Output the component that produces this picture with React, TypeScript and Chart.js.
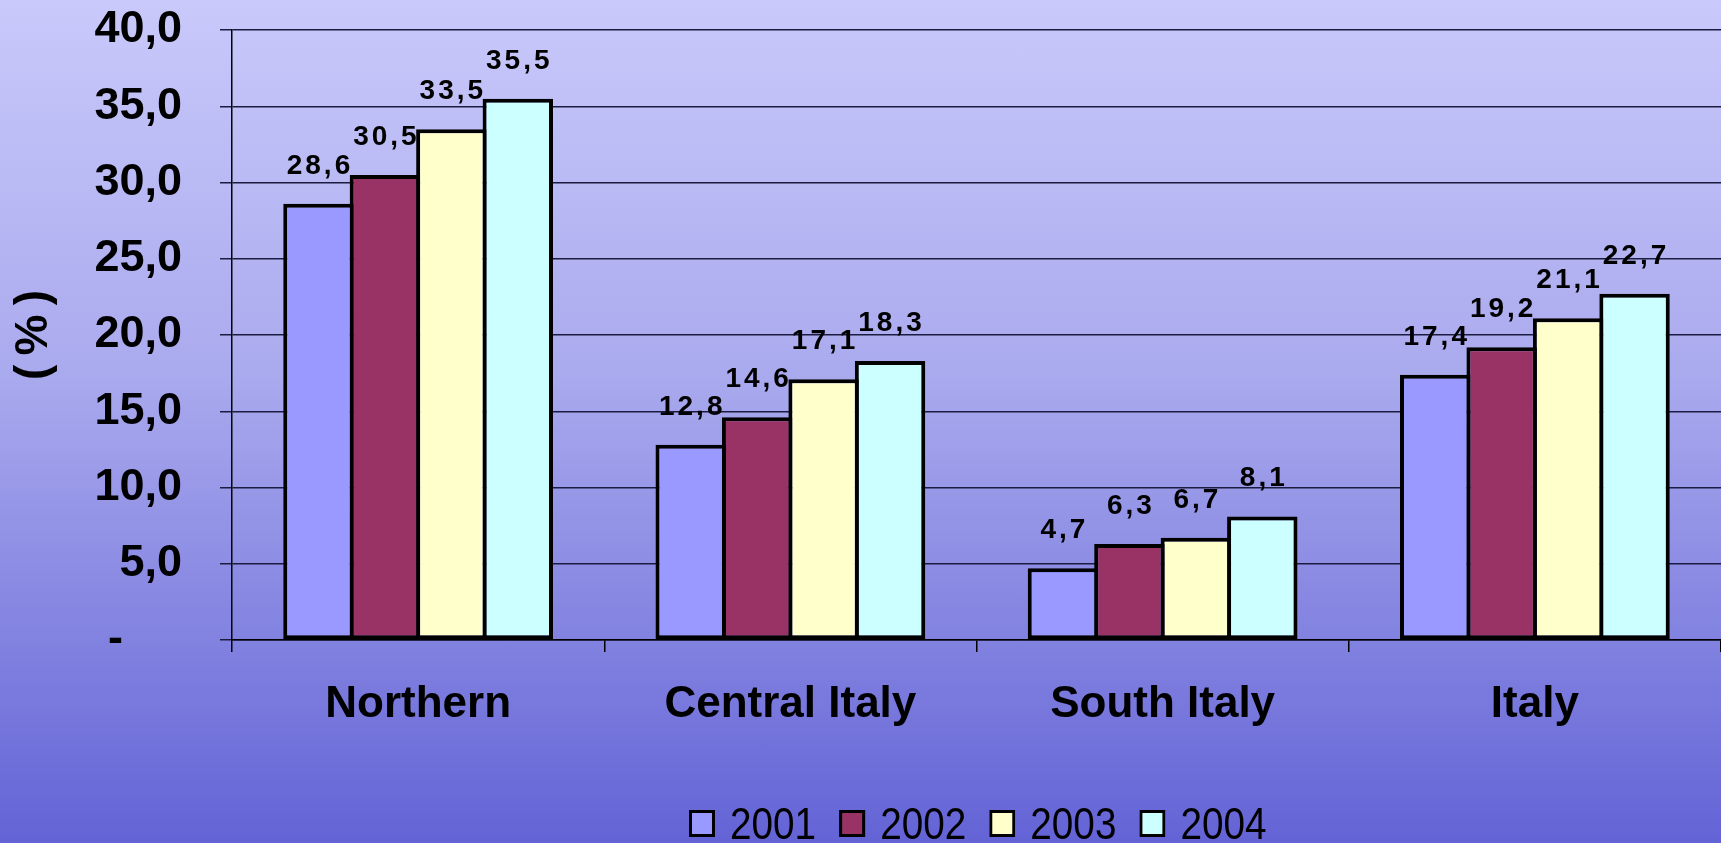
import React, { useEffect, useRef } from 'react';
import { Chart, registerables } from 'chart.js';

Chart.register(...registerables);

const categories = ['Northern', 'Central Italy', 'South Italy', 'Italy'];
const seriesNames = ['2001', '2002', '2003', '2004'];
const values2001 = [28.6, 12.8, 4.7, 17.4];
const values2002 = [30.5, 14.6, 6.3, 19.2];
const values2003 = [33.5, 17.1, 6.7, 21.1];
const values2004 = [35.5, 18.3, 8.1, 22.7];
const seriesValues = [values2001, values2002, values2003, values2004];
const seriesColors = ['#9999ff', '#993366', '#ffffcc', '#ccffff'];
const yMin = 0;
const yMax = 40;
const yStep = 5;
const yTitle = '(\u2009%\u2009)';
const zeroLabel = '-\u2007\u2007\u2009';

const FONT = '"Liberation Sans", Arial, Helvetica, sans-serif';

const W = 1721;
const H = 843;

const fmt = (v: number) => v.toFixed(1).replace('.', ',');

const dataLabelPlugin = {
  id: 'dataLabelPlugin',
  afterDatasetsDraw(chart: any) {
    const ctx = chart.ctx;
    ctx.save();
    ctx.font = `bold 28px ${FONT}`;
    ctx.fillStyle = '#000';
    ctx.textAlign = 'center';
    ctx.textBaseline = 'alphabetic';
    ctx.letterSpacing = '3px';
    chart.data.datasets.forEach((ds: any, di: number) => {
      const meta = chart.getDatasetMeta(di);
      meta.data.forEach((el: any, i: number) => {
        const v = ds.data[i] as number;
        ctx.fillText(fmt(v), el.x + 1.5, el.y - 30);
      });
    });
    ctx.restore();
  },
};

// Legend drawn in a slightly condensed face (the original uses a narrow font)
const legendPlugin = {
  id: 'condensedLegend',
  afterDraw(chart: any) {
    const ctx = chart.ctx;
    ctx.save();
    const squeeze = 0.88;
    const boxW = 26;
    const boxH = 27;
    const boxTop = 810;
    const baseline = 839;
    const gapText = 15;
    const gapItem = 23;
    ctx.font = `44px ${FONT}`;
    ctx.textBaseline = 'alphabetic';
    ctx.textAlign = 'left';
    let x = 689;
    chart.data.datasets.forEach((ds: any) => {
      ctx.fillStyle = ds.backgroundColor;
      ctx.fillRect(x, boxTop, boxW, boxH);
      ctx.lineWidth = 3;
      ctx.strokeStyle = '#000';
      ctx.strokeRect(x + 1.5, boxTop + 1.5, boxW - 3, boxH - 3);
      const tx = x + boxW + gapText;
      ctx.save();
      ctx.translate(tx, baseline);
      ctx.scale(squeeze, 1);
      ctx.fillStyle = '#000';
      ctx.fillText(ds.label, 0, 0);
      ctx.restore();
      const tw = ctx.measureText(ds.label).width * squeeze;
      x = tx + tw + gapItem;
    });
    ctx.restore();
  },
};

export default function App() {
  const canvasRef = useRef<HTMLCanvasElement | null>(null);

  useEffect(() => {
    document.body.style.margin = '0';
    const canvas = canvasRef.current;
    if (!canvas) return;
    const chart = new Chart(canvas, {
      type: 'bar',
      data: {
        labels: categories,
        datasets: seriesNames.map((name, i) => ({
          label: name,
          data: seriesValues[i],
          backgroundColor: seriesColors[i],
          borderColor: '#000',
          borderWidth: 4,
          borderSkipped: false,
          categoryPercentage: 0.714,
          barPercentage: 1.06,
        })),
      },
      options: {
        responsive: false,
        animation: false,
        events: [],
        layout: { padding: { top: 30, left: 0, right: 0, bottom: 0 } },
        plugins: {
          tooltip: { enabled: false },
          legend: { display: false },
        },
        scales: {
          x: {
            grid: {
              display: true,
              drawOnChartArea: false,
              drawTicks: true,
              tickLength: 12,
              color: '#000',
              lineWidth: 1.5,
              offset: true,
            },
            border: { display: true, color: '#000', width: 1.5 },
            ticks: {
              color: '#000',
              padding: 26,
              autoSkip: false,
              maxRotation: 0,
              font: { family: FONT, size: 44, weight: 'bold' },
            },
            afterFit: (scale: any) => {
              scale.height = 203;
            },
          },
          y: {
            min: yMin,
            max: yMax,
            grid: {
              color: '#1c1c40',
              lineWidth: 1.5,
              tickLength: 12,
              drawTicks: true,
            },
            border: { display: true, color: '#000', width: 1.5 },
            ticks: {
              stepSize: yStep,
              color: '#000',
              padding: 38,
              font: { family: FONT, size: 45, weight: 'bold' },
              callback: (v: any) => (Number(v) === 0 ? zeroLabel : fmt(Number(v))),
            },
            title: {
              display: true,
              text: yTitle,
              color: '#000',
              padding: { top: 7, bottom: 0 },
              font: { family: FONT, size: 46, weight: 'bold' },
            },
            afterFit: (scale: any) => {
              scale.width = 232;
              scale.paddingTop = 0;
              scale.paddingBottom = 0;
            },
          },
        },
      },
      plugins: [dataLabelPlugin, legendPlugin],
    } as any);
    return () => chart.destroy();
  }, []);

  return (
    <div
      style={{
        position: 'fixed',
        left: 0,
        top: 0,
        width: W,
        height: H,
        background: 'linear-gradient(to bottom, #c9c9fb 0%, #a9a9ee 45%, #6363d6 100%)',
      }}
    >
      <canvas ref={canvasRef} width={W} height={H} style={{ display: 'block' }} />
    </div>
  );
}
